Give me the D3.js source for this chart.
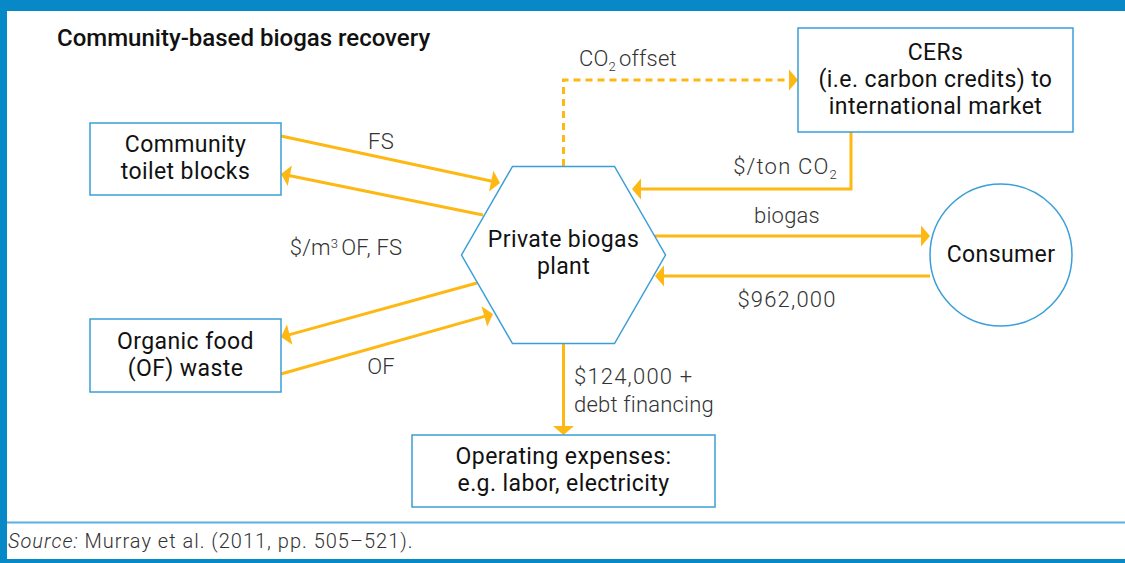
<!DOCTYPE html>
<html>
<head>
<meta charset="utf-8">
<script src="https://cdn.jsdelivr.net/npm/d3@7"></script>
<style>
  html, body { margin: 0; padding: 0; background: #fff; }
  svg { display: block; font-family: Roboto, "Open Sans", sans-serif; }
  .node-text { fill: #111; font-size: 23px; letter-spacing: 0.4px; }
  .flow-text { fill: #333; font-size: 22px; font-weight: 300; }
</style>
</head>
<body>
<div id="chart"></div>
<script>
// Diagram content
const title = 'Community-based biogas recovery';
const nodeNames = ['toilets', 'food', 'plant', 'cers', 'consumer', 'opex'];
const nodeLabels = [
  ['Community', 'toilet blocks'],
  ['Organic food', '(OF) waste'],
  ['Private biogas', 'plant'],
  ['CERs', '(i.e. carbon credits) to', 'international market'],
  ['Consumer'],
  ['Operating expenses:', 'e.g. labor, electricity']
];
const flowFrom = ['toilets', 'plant', 'plant', 'food', 'plant', 'cers', 'plant', 'consumer', 'plant'];
const flowTo = ['plant', 'toilets', 'food', 'plant', 'cers', 'plant', 'consumer', 'plant', 'opex'];
const flowLabels = ['FS', '', '$/m³OF, FS', 'OF', 'CO₂offset', '$/ton CO₂', 'biogas', '$962,000', '$124,000 +|debt financing'];
const sourceNote = ['Source:', ' Murray et al. (2011, pp. 505\u2013521).'];

// Layout (pixels)
const width = 1125, height = 563;
const boxes = {
  toilets: { x: 90, y: 123, w: 191, h: 72 },
  food: { x: 90, y: 319, w: 191, h: 73 },
  cers: { x: 798, y: 28, w: 275, h: 104 },
  opex: { x: 412, y: 435, w: 303, h: 72 }
};
const hex = { cx: 563.5, cy: 255, rx: 102, top: 166.5, half: 51 };
const circ = { cx: 1001, cy: 255, r: 71 };

const flowGeom = [
  { pts: [[281, 136], [500, 183]], lab: [381, 149], anchor: 'middle' },
  { pts: [[483, 215], [281, 174]] },
  { pts: [[477, 283], [281, 337]], lab: [346, 255], anchor: 'middle' },
  { pts: [[281, 374], [493, 314]], lab: [381, 374], anchor: 'middle' },
  { pts: [[563.5, 166], [563.5, 80], [798, 80]], dashed: true, lab: [579, 66], anchor: 'start' },
  { pts: [[851, 132], [851, 189], [632, 189]], lab: [838, 174], anchor: 'end' },
  { pts: [[655, 236], [930, 236]], lab: [787, 223], anchor: 'middle' },
  { pts: [[930, 276], [655, 276]], lab: [787, 307], anchor: 'middle' },
  { pts: [[563.5, 343], [563.5, 435]], lab: [574, 384], anchor: 'start' }
];

const blue = '#0789c7';
const lineBlue = '#3a9fd8';
const orange = '#fdb813';

const svg = d3.select('#chart').append('svg')
  .attr('width', width)
  .attr('height', height);

// Frame
svg.append('rect').attr('x', 0).attr('y', 0).attr('width', width).attr('height', 11).attr('fill', blue);
svg.append('rect').attr('x', 0).attr('y', 0).attr('width', 7).attr('height', height).attr('fill', blue);
svg.append('rect').attr('x', 0).attr('y', 559).attr('width', width).attr('height', 4).attr('fill', blue);
svg.append('line')
  .attr('x1', 7).attr('x2', width).attr('y1', 522.5).attr('y2', 522.5)
  .attr('stroke', '#5aafdc').attr('stroke-width', 2);

// Title
svg.append('text')
  .attr('x', 57).attr('y', 46)
  .attr('font-size', 24).attr('font-weight', 500).attr('fill', '#111')
  .text(title);

// Source
const src = svg.append('text').attr('x', 8).attr('y', 548)
  .attr('font-size', 20).attr('fill', '#333').attr('font-weight', 300)
  .attr('letter-spacing', 1);
src.append('tspan').attr('font-style', 'italic').text(sourceNote[0]);
src.append('tspan').text(sourceNote[1]);

// Arrows
const arrowLen = 9, arrowHalf = 10.5;
const line = d3.line();
flowGeom.forEach((g, i) => {
  const pts = g.pts.map(p => p.slice());
  const tip = pts[pts.length - 1];
  const prev = pts[pts.length - 2];
  const dx = tip[0] - prev[0], dy = tip[1] - prev[1];
  const len = Math.hypot(dx, dy);
  const ux = dx / len, uy = dy / len;
  const base = [tip[0] - ux * arrowLen, tip[1] - uy * arrowLen];
  const shaft = pts.slice(0, -1).concat([[tip[0] - ux * (arrowLen - 1), tip[1] - uy * (arrowLen - 1)]]);

  svg.append('path')
    .attr('d', line(shaft))
    .attr('fill', 'none')
    .attr('stroke', orange)
    .attr('stroke-width', 3)
    .attr('stroke-dasharray', g.dashed ? '7,5' : null);

  svg.append('path')
    .attr('d', line([
      tip,
      [base[0] - uy * arrowHalf, base[1] + ux * arrowHalf],
      [base[0] + uy * arrowHalf, base[1] - ux * arrowHalf]
    ]) + 'Z')
    .attr('fill', orange);

  const label = flowLabels[i];
  if (!label) return;
  const t = svg.append('text')
    .attr('class', 'flow-text')
    .attr('x', g.lab[0]).attr('y', g.lab[1])
    .attr('text-anchor', g.anchor)
    .attr('letter-spacing', 0.2);
  // money figures are set wider in the original
  const wide = s => (/\$\d|\/ton/.test(s) ? 1.2 : 0.2);
  if (label.includes('₂')) {
    const parts = label.split('₂');
    t.attr('letter-spacing', wide(label));
    t.append('tspan').text(parts[0]);
    t.append('tspan').attr('font-size', 13).attr('dy', 5).text('2');
    if (parts[1]) t.append('tspan').attr('dy', -5).attr('dx', 3).text(parts[1]);
  } else if (label.includes('³')) {
    const parts = label.split('³');
    t.append('tspan').text(parts[0]);
    t.append('tspan').attr('font-size', 13).attr('dy', -7).text('3');
    t.append('tspan').attr('dy', 7).attr('dx', 3).text(parts[1]);
  } else {
    label.split('|').forEach((s, k) => {
      t.append('tspan')
        .attr('x', g.lab[0])
        .attr('dy', k === 0 ? 0 : 28)
        .attr('letter-spacing', wide(s))
        .text(s);
    });
  }
});

// Nodes
const nodeG = svg.append('g');
nodeNames.forEach((name, i) => {
  let cx, cy;
  if (boxes[name]) {
    const b = boxes[name];
    nodeG.append('rect')
      .attr('x', b.x).attr('y', b.y).attr('width', b.w).attr('height', b.h)
      .attr('fill', '#fff').attr('stroke', lineBlue).attr('stroke-width', 1.5);
    cx = b.x + b.w / 2; cy = b.y + b.h / 2;
  } else if (name === 'plant') {
    const pts = [
      [hex.cx - hex.half, hex.top], [hex.cx + hex.half, hex.top],
      [hex.cx + hex.rx, hex.cy], [hex.cx + hex.half, 2 * hex.cy - hex.top],
      [hex.cx - hex.half, 2 * hex.cy - hex.top], [hex.cx - hex.rx, hex.cy]
    ];
    nodeG.append('path')
      .attr('d', line(pts) + 'Z')
      .attr('fill', 'none').attr('stroke', lineBlue).attr('stroke-width', 1.5);
    cx = hex.cx; cy = hex.cy - 1;
  } else {
    nodeG.append('circle')
      .attr('cx', circ.cx).attr('cy', circ.cy).attr('r', circ.r)
      .attr('fill', '#fff').attr('stroke', lineBlue).attr('stroke-width', 1.5);
    cx = circ.cx; cy = circ.cy;
  }
  const lines = nodeLabels[i];
  const lh = 27;
  const t = nodeG.append('text')
    .attr('class', 'node-text')
    .attr('text-anchor', 'middle');
  lines.forEach((s, k) => {
    t.append('tspan')
      .attr('x', cx)
      .attr('y', cy + 6.5 + (k - (lines.length - 1) / 2) * lh)
      .text(s);
  });
});
</script>
</body>
</html>
